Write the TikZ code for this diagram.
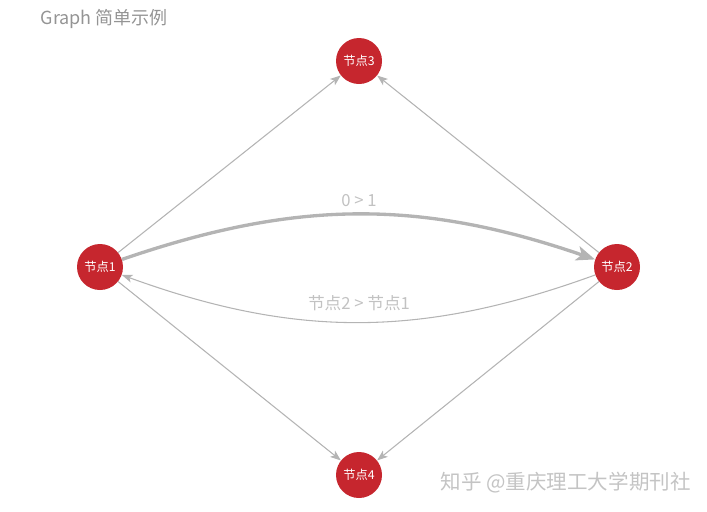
\documentclass[tikz,border=0pt]{standalone}
\usepackage{fontspec}
\setmainfont{Noto Sans CJK SC}
\usetikzlibrary{arrows.meta}
\definecolor{nodered}{HTML}{C6262E}
\definecolor{edgegray}{HTML}{B4B4B4}
\definecolor{labelgray}{HTML}{C2C2C2}
\definecolor{titlegray}{HTML}{949494}
\definecolor{wmgray}{HTML}{C4C4C4}
\tikzset{
  gnode/.style={circle,fill=nodered,draw=none,minimum size=34.5pt,inner sep=0pt,text=white,font=\fontsize{9.2}{9.2}\selectfont},
  thinedge/.style={draw=edgegray,line width=0.8pt,-{Stealth[length=8pt,width=6pt,inset=2pt]}},
  thickedge/.style={draw=edgegray,line width=2.5pt,-{Stealth[length=14pt,width=11pt,inset=3.5pt]}},
  elabel/.style={text=labelgray,font=\fontsize{12.5}{13}\selectfont},
}
\begin{document}
\begin{tikzpicture}[x=0.75pt,y=-0.75pt]
\useasboundingbox (0,0) rectangle (707,511);
\node[anchor=west,text=titlegray,font=\fontsize{13.5}{14}\selectfont] (title) at (36,19) {Graph 简单示例};
\node[gnode] (n3) at (359,61) {节点3};
\node[gnode] (n1) at (100,267) {节点1};
\node[gnode] (n2) at (617,267) {节点2};
\node[gnode] (n4) at (359,475) {节点4};
\draw[thinedge] (n1) -- (n3);
\draw[thinedge] (n2) -- (n3);
\draw[thinedge] (n1) -- (n4);
\draw[thinedge] (n2) -- (n4);
\draw[thickedge] (n1) to[bend left=19] (n2);
\draw[thinedge] (n2) to[bend left=20] (n1);
\node[elabel] (l1) at (359,201) {0 > 1};
\node[elabel] (l2) at (359,303) {节点2 > 节点1};
\node[anchor=west,text=wmgray,font=\fontsize{15.4}{16}\selectfont] (wm) at (436,483) {知乎 @重庆理工大学期刊社};
\end{tikzpicture}
\end{document}
